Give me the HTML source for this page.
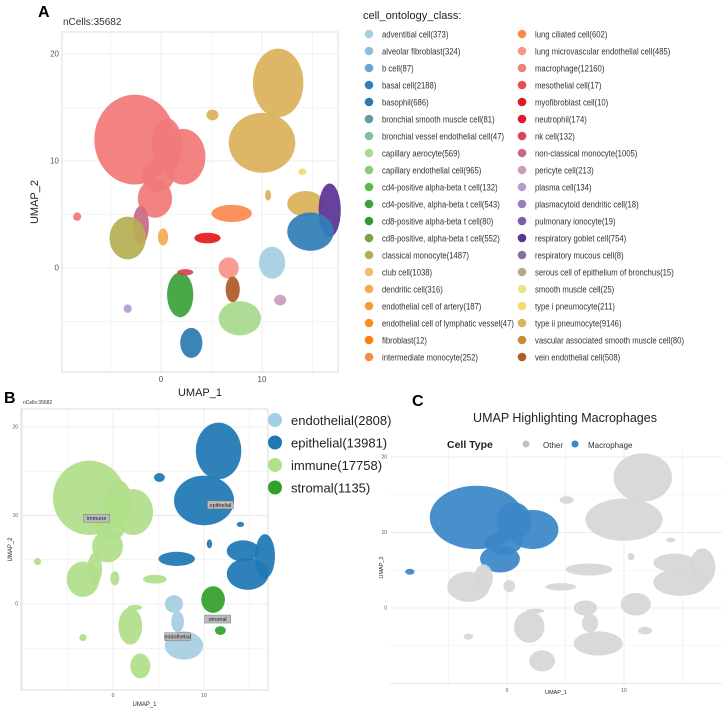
<!DOCTYPE html>
<html><head><meta charset="utf-8"><style>
body{margin:0;background:#fff;font-family:"Liberation Sans",sans-serif;}
svg text{font-family:"Liberation Sans",sans-serif;}
</style></head><body>
<svg id="fig" width="725" height="711" viewBox="0 0 725 711" xmlns="http://www.w3.org/2000/svg">
<rect width="725" height="711" fill="#fff"/>
<text x="38" y="17" font-family="Liberation Serif" font-weight="bold" font-size="16">A</text>
<text x="63" y="25" font-size="10" fill="#333">nCells:35682</text>
<text x="4" y="403" font-family="Liberation Serif" font-weight="bold" font-size="16">B</text>
<text x="23" y="404" font-size="5" fill="#333">nCells:35682</text>
<text x="412" y="406" font-family="Liberation Serif" font-weight="bold" font-size="16">C</text>
<text x="565" y="422" font-size="12.5" text-anchor="middle" fill="#222">UMAP Highlighting Macrophages</text>
<g id="gA"></g>
<g id="gB"></g>
<g id="gC"></g>
<g id="legA">
<text x="363" y="19" font-size="11" fill="#222">cell_ontology_class:</text>
</g>
<g id="legB"></g>
<g id="legC">
<text x="447" y="448" font-size="10.5" font-weight="bold" fill="#222">Cell Type</text>
<circle cx="526" cy="444" r="3.5" fill="#c0c0c0"/>
<text x="543" y="448" font-size="8" fill="#333">Other</text>
<circle cx="575" cy="444" r="3.5" fill="#3a86c8"/>
<text x="588" y="448" font-size="8" fill="#333">Macrophage</text>
</g>
</svg>
<script>
const NS="http://www.w3.org/2000/svg";
// cluster data (UMAP units)
const clusterU=[-2.6,2.2,-0.6,-2.0,-3.3,11.6,10.0,5.1,14.3,16.7,14.8,4.6,7.0,-8.3,0.2,1.9,2.4,3.0,-3.3,6.7,7.1,7.8,11.0,11.8,14.0,10.6,0.6,-0.3];
const clusterV=[12.0,10.4,6.5,4.0,2.8,17.3,11.7,14.3,6.0,5.4,3.4,2.8,5.1,4.8,2.9,-2.5,-0.4,-7.0,-3.8,0.0,-2.0,-4.7,0.5,-3.0,9.0,6.8,11.5,8.6];
const clusterRU=[4.0,2.2,1.7,0.8,1.8,2.5,3.3,0.6,1.8,1.1,2.3,1.3,2.0,0.4,0.5,1.3,0.8,1.1,0.4,1.0,0.7,2.1,1.3,0.6,0.4,0.3,1.5,1.6];
const clusterRV=[4.2,2.6,1.8,1.8,2.0,3.2,2.8,0.5,1.2,2.5,1.8,0.5,0.8,0.4,0.8,2.1,0.3,1.4,0.4,1.0,1.2,1.6,1.5,0.5,0.3,0.5,2.5,1.5];
const clusterColor=["#f27a7a","#f27a7a","#f27a7a","#c96a85","#b6ae55","#dcb25a","#dcb25a","#dcb25a","#dcb25a","#5a3494","#2f7fb8","#e31a1c","#fb8a4f","#f27a7a","#f8a84e","#3aa33a","#d84456","#2b7bb0","#b69bcf","#f7948b","#b15928","#a9d98c","#a6cee3","#c89ec0","#f2dc6a","#dcb25a","#f27a7a","#f27a7a"];
const clusterGroup=["immune","immune","immune","immune","immune","epithelial","epithelial","epithelial","epithelial","epithelial","epithelial","immune","epithelial","immune","immune","immune","immune","immune","immune","endothelial","endothelial","endothelial","stromal","stromal","epithelial","epithelial","immune","immune"];
const clusterMac=[1,1,1,0,0,0,0,0,0,0,0,0,0,1,0,0,0,0,0,0,0,0,0,0,0,0,1,1];
const groupNames=["endothelial","epithelial","immune","stromal"];
const groupCounts=[2808,13981,17758,1135];
const groupColors=["#a6cee3","#1f78b4","#b2df8a","#33a02c"];
const legendLabels=["adventitial cell(373)","alveolar fibroblast(324)","b cell(87)","basal cell(2188)","basophil(686)","bronchial smooth muscle cell(81)","bronchial vessel endothelial cell(47)","capillary aerocyte(569)","capillary endothelial cell(965)","cd4-positive alpha-beta t cell(132)","cd4-positive, alpha-beta t cell(543)","cd8-positive alpha-beta t cell(80)","cd8-positive, alpha-beta t cell(552)","classical monocyte(1487)","club cell(1038)","dendritic cell(316)","endothelial cell of artery(187)","endothelial cell of lymphatic vessel(47)","fibroblast(12)","intermediate monocyte(252)","lung ciliated cell(602)","lung microvascular endothelial cell(485)","macrophage(12160)","mesothelial cell(17)","myofibroblast cell(10)","neutrophil(174)","nk cell(132)","non-classical monocyte(1005)","pericyte cell(213)","plasma cell(134)","plasmacytoid dendritic cell(18)","pulmonary ionocyte(19)","respiratory goblet cell(754)","respiratory mucous cell(8)","serous cell of epithelium of bronchus(15)","smooth muscle cell(25)","type i pneumocyte(211)","type ii pneumocyte(9146)","vascular associated smooth muscle cell(80)","vein endothelial cell(508)"];
const legendColors=["#a6cee3","#8fbfdc","#6aa6d4","#2f7fb8","#2b7bb0","#5b9da0","#7fbf9b","#a9d98c","#8cc97a","#5db84e","#3aa33a","#2f9a35","#79a343","#b6ae55","#f2bd6b","#f8a84e","#fb9a3a","#fd8c23","#ff7f0e","#f98b4a","#fb8a4f","#f7948b","#f08080","#ea4f4f","#e31a1c","#e0182a","#d84456","#c96a85","#c89ec0","#b69bcf","#9a7bc0","#7e5aad","#5a3494","#8a7494","#b8a88a","#e6e48c","#f2dc6a","#dcb25a","#c98a3c","#b15928"];
const xTicks=[0,10];
const yTicks=[0,10,20];

function el(tag,attrs,parent){const e=document.createElementNS(NS,tag);for(const k in attrs)e.setAttribute(k,attrs[k]);parent.appendChild(e);return e;}

function panel(g,P,colorFn,prefix){
  const sx=u=>P.x0+P.kx*u, sy=v=>P.y0-P.ky*v;
  const bg=el('rect',{x:P.l,y:P.t,width:P.r-P.l,height:P.b-P.t,fill:'#fff',stroke:P.border?'#ddd':'none'},g);
  
  
  for(let u=-10;u<=20;u+=5){const X=sx(u);if(X<=P.l||X>=P.r)continue;
    const ln=el('line',{x1:X,x2:X,y1:P.t,y2:P.b,stroke:'#ececec','stroke-width':u%10===0?0.9:0.6},g);
    
    }
  for(let v=-10;v<=25;v+=5){const Y=sy(v);if(Y<=P.t||Y>=P.b)continue;
    const ln=el('line',{x1:P.l,x2:P.r,y1:Y,y2:Y,stroke:'#ececec','stroke-width':v%10===0?0.9:0.6},g);
    
    }
  for(let i=0;i<clusterU.length;i++){
    const c=el('ellipse',{cx:sx(clusterU[i]),cy:sy(clusterV[i]),rx:P.kx*clusterRU[i],ry:P.ky*clusterRV[i],fill:colorFn(i),'fill-opacity':0.93},g);
    
    
  }
  xTicks.forEach(t=>{const tx=el('text',{x:sx(t),y:P.b+P.fs+2,'font-size':P.fs,'text-anchor':'middle',fill:'#555'},g);tx.textContent=t;
    
    });
  yTicks.forEach(t=>{const tx=el('text',{x:P.l-3,y:sy(t)+P.fs/3,'font-size':P.fs,'text-anchor':'end',fill:'#555'},g);tx.textContent=t;
    
    });
  const xt=el('text',{x:(P.l+P.r)/2,y:P.xty,'font-size':P.afs,'text-anchor':'middle',fill:'#222'},g);xt.textContent=P.xlab;
  
  
  const yt=el('text',{x:0,y:0,'font-size':P.afs,'text-anchor':'middle',fill:'#222',transform:`translate(${P.ytx},${(P.t+P.b)/2}) rotate(-90)`},g);yt.textContent='UMAP_2';
  
  
}
panel(document.getElementById('gA'),{l:62,t:32,r:338,b:372,x0:161,kx:10.1,y0:268,ky:10.7,fs:8,afs:11,xty:396,ytx:38,xlab:'UMAP_1',border:true},i=>clusterColor[i],'a');
panel(document.getElementById('gB'),{l:21,t:409,r:268,b:690,x0:113,kx:9.1,y0:604,ky:8.85,fs:5,afs:6,xty:706,ytx:12,xlab:'UMAP_1',border:true},i=>groupColors[groupNames.indexOf(clusterGroup[i])],'b');
panel(document.getElementById('gC'),{l:390,t:450,r:722,b:685,x0:507,kx:11.7,y0:608,ky:7.55,fs:5,afs:5.5,xty:694,ytx:383,xlab:'UMAP_1',border:false},i=>clusterMac[i]?'#3a86c8':'#d6d6d6','c');

// B cluster labels
const bLabels=[["immune",-1.8,9.7],["epithelial",11.8,11.2],["stromal",11.5,-1.7],["endothelial",7.1,-3.7]];
const gB=document.getElementById('gB');
bLabels.forEach(l=>{const X=113+9.1*l[1],Y=604-8.85*l[2];
  const r=el('rect',{x:X-13,y:Y-4,width:26,height:8,fill:'#bbb',stroke:'#666','stroke-width':0.4},gB);
  
  
  const t=el('text',{x:X,y:Y+2,'font-size':5.5,'text-anchor':'middle',fill:'#222'},gB);t.textContent=l[0];
  
  });

// A legend
const legA=document.getElementById('legA');
legendLabels.forEach((lab,i)=>{const col=i<20?0:1,row=i%20;const dx=col?522:369,tx=col?535:382,y=34+row*17.0;
  const c=el('circle',{cx:dx,cy:y,r:4.3,fill:legendColors[i]},legA);
  
  
  const t=el('text',{x:0,y:0,'font-size':9.3,fill:'#333',transform:`translate(${tx},${y+3.3}) scale(0.83,1)`},legA);t.textContent=lab;
  
  });
// B legend
const legB=document.getElementById('legB');
groupNames.forEach((n,i)=>{const y=420+i*22.5;
  const c=el('circle',{cx:275,cy:y,r:7,fill:groupColors[i]},legB);
  
  
  const t=el('text',{x:291,y:y+5,'font-size':13,fill:'#222'},legB);t.textContent=n+'('+groupCounts[i]+')';
  
  });
</script>
</body></html>
